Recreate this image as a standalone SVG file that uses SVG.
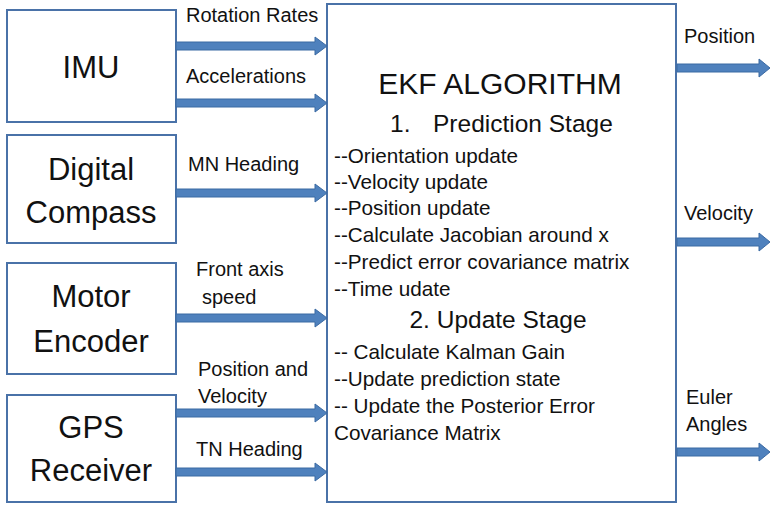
<svg xmlns="http://www.w3.org/2000/svg" width="771" height="505" viewBox="0 0 771 505">
<style>
.box{fill:#fff;stroke:#4a72a8;stroke-width:2}
.arr{fill:#4f81bd;stroke:#3b6aa3;stroke-width:1}
text{font-family:"Liberation Sans",Arial,sans-serif;fill:#111}
.big{font-size:31px;text-anchor:middle}
.lbl{font-size:20px}
.item{font-size:20.7px}
.head{font-size:24.5px}
.title{font-size:30px;text-anchor:middle}
</style>
<defs>
<path id="inArrow" class="arr" d="M0,-4 H139 V-9 L151,0 L139,9 V4 H0 Z"/>
<path id="outArrow" class="arr" d="M0,-4 H82 V-9 L93,0 L82,9 V4 H0 Z"/>
</defs>
<g id="imu">
<rect class="box" x="7" y="10" width="169" height="112"/>
<text class="big" x="91" y="78">IMU</text>
</g>
<g id="compass">
<rect class="box" x="7" y="135" width="169" height="108"/>
<text class="big" x="91" y="180">Digital</text>
<text class="big" x="91" y="223">Compass</text>
</g>
<g id="encoder">
<rect class="box" x="7" y="263" width="169" height="111"/>
<text class="big" x="91" y="307">Motor</text>
<text class="big" x="91" y="352">Encoder</text>
</g>
<g id="gps">
<rect class="box" x="7" y="395" width="169" height="107"/>
<text class="big" x="91" y="438">GPS</text>
<text class="big" x="91" y="481">Receiver</text>
</g>
<g id="ekf">
<rect class="box" x="327" y="4" width="349" height="498"/>
<text class="title" x="500" y="94">EKF ALGORITHM</text>
<text class="head" x="390" y="132">1.</text>
<text class="head" x="433" y="132">Prediction Stage</text>
<text class="item" x="334" y="163">--Orientation update</text>
<text class="item" x="334" y="189">--Velocity update</text>
<text class="item" x="334" y="215">--Position update</text>
<text class="item" x="334" y="242">--Calculate Jacobian around x</text>
<text class="item" x="334" y="269">--Predict error covariance matrix</text>
<text class="item" x="334" y="296">--Time udate</text>
<text class="head" x="498" y="328" text-anchor="middle">2. Update Stage</text>
<text class="item" x="334" y="359">-- Calculate Kalman Gain</text>
<text class="item" x="334" y="386">--Update prediction state</text>
<text class="item" x="334" y="413">-- Update the Posterior Error</text>
<text class="item" x="334" y="440">Covariance Matrix</text>
</g>
<g id="connectors">
<use href="#inArrow" x="176" y="46"/>
<use href="#inArrow" x="176" y="103"/>
<use href="#inArrow" x="176" y="193"/>
<use href="#inArrow" x="176" y="318"/>
<use href="#inArrow" x="176" y="413"/>
<use href="#inArrow" x="176" y="472"/>
<use href="#outArrow" x="677" y="68"/>
<use href="#outArrow" x="677" y="242"/>
<use href="#outArrow" x="677" y="452"/>
<text class="lbl" x="186" y="22">Rotation Rates</text>
<text class="lbl" x="186" y="83">Accelerations</text>
<text class="lbl" x="188" y="171">MN Heading</text>
<text class="lbl" x="196" y="276">Front axis</text>
<text class="lbl" x="202" y="304">speed</text>
<text class="lbl" x="198" y="376">Position and</text>
<text class="lbl" x="198" y="403">Velocity</text>
<text class="lbl" x="196" y="456">TN Heading</text>
<text class="lbl" x="684" y="43">Position</text>
<text class="lbl" x="684" y="220">Velocity</text>
<text class="lbl" x="686" y="404">Euler</text>
<text class="lbl" x="686" y="431">Angles</text>
</g>
</svg>
